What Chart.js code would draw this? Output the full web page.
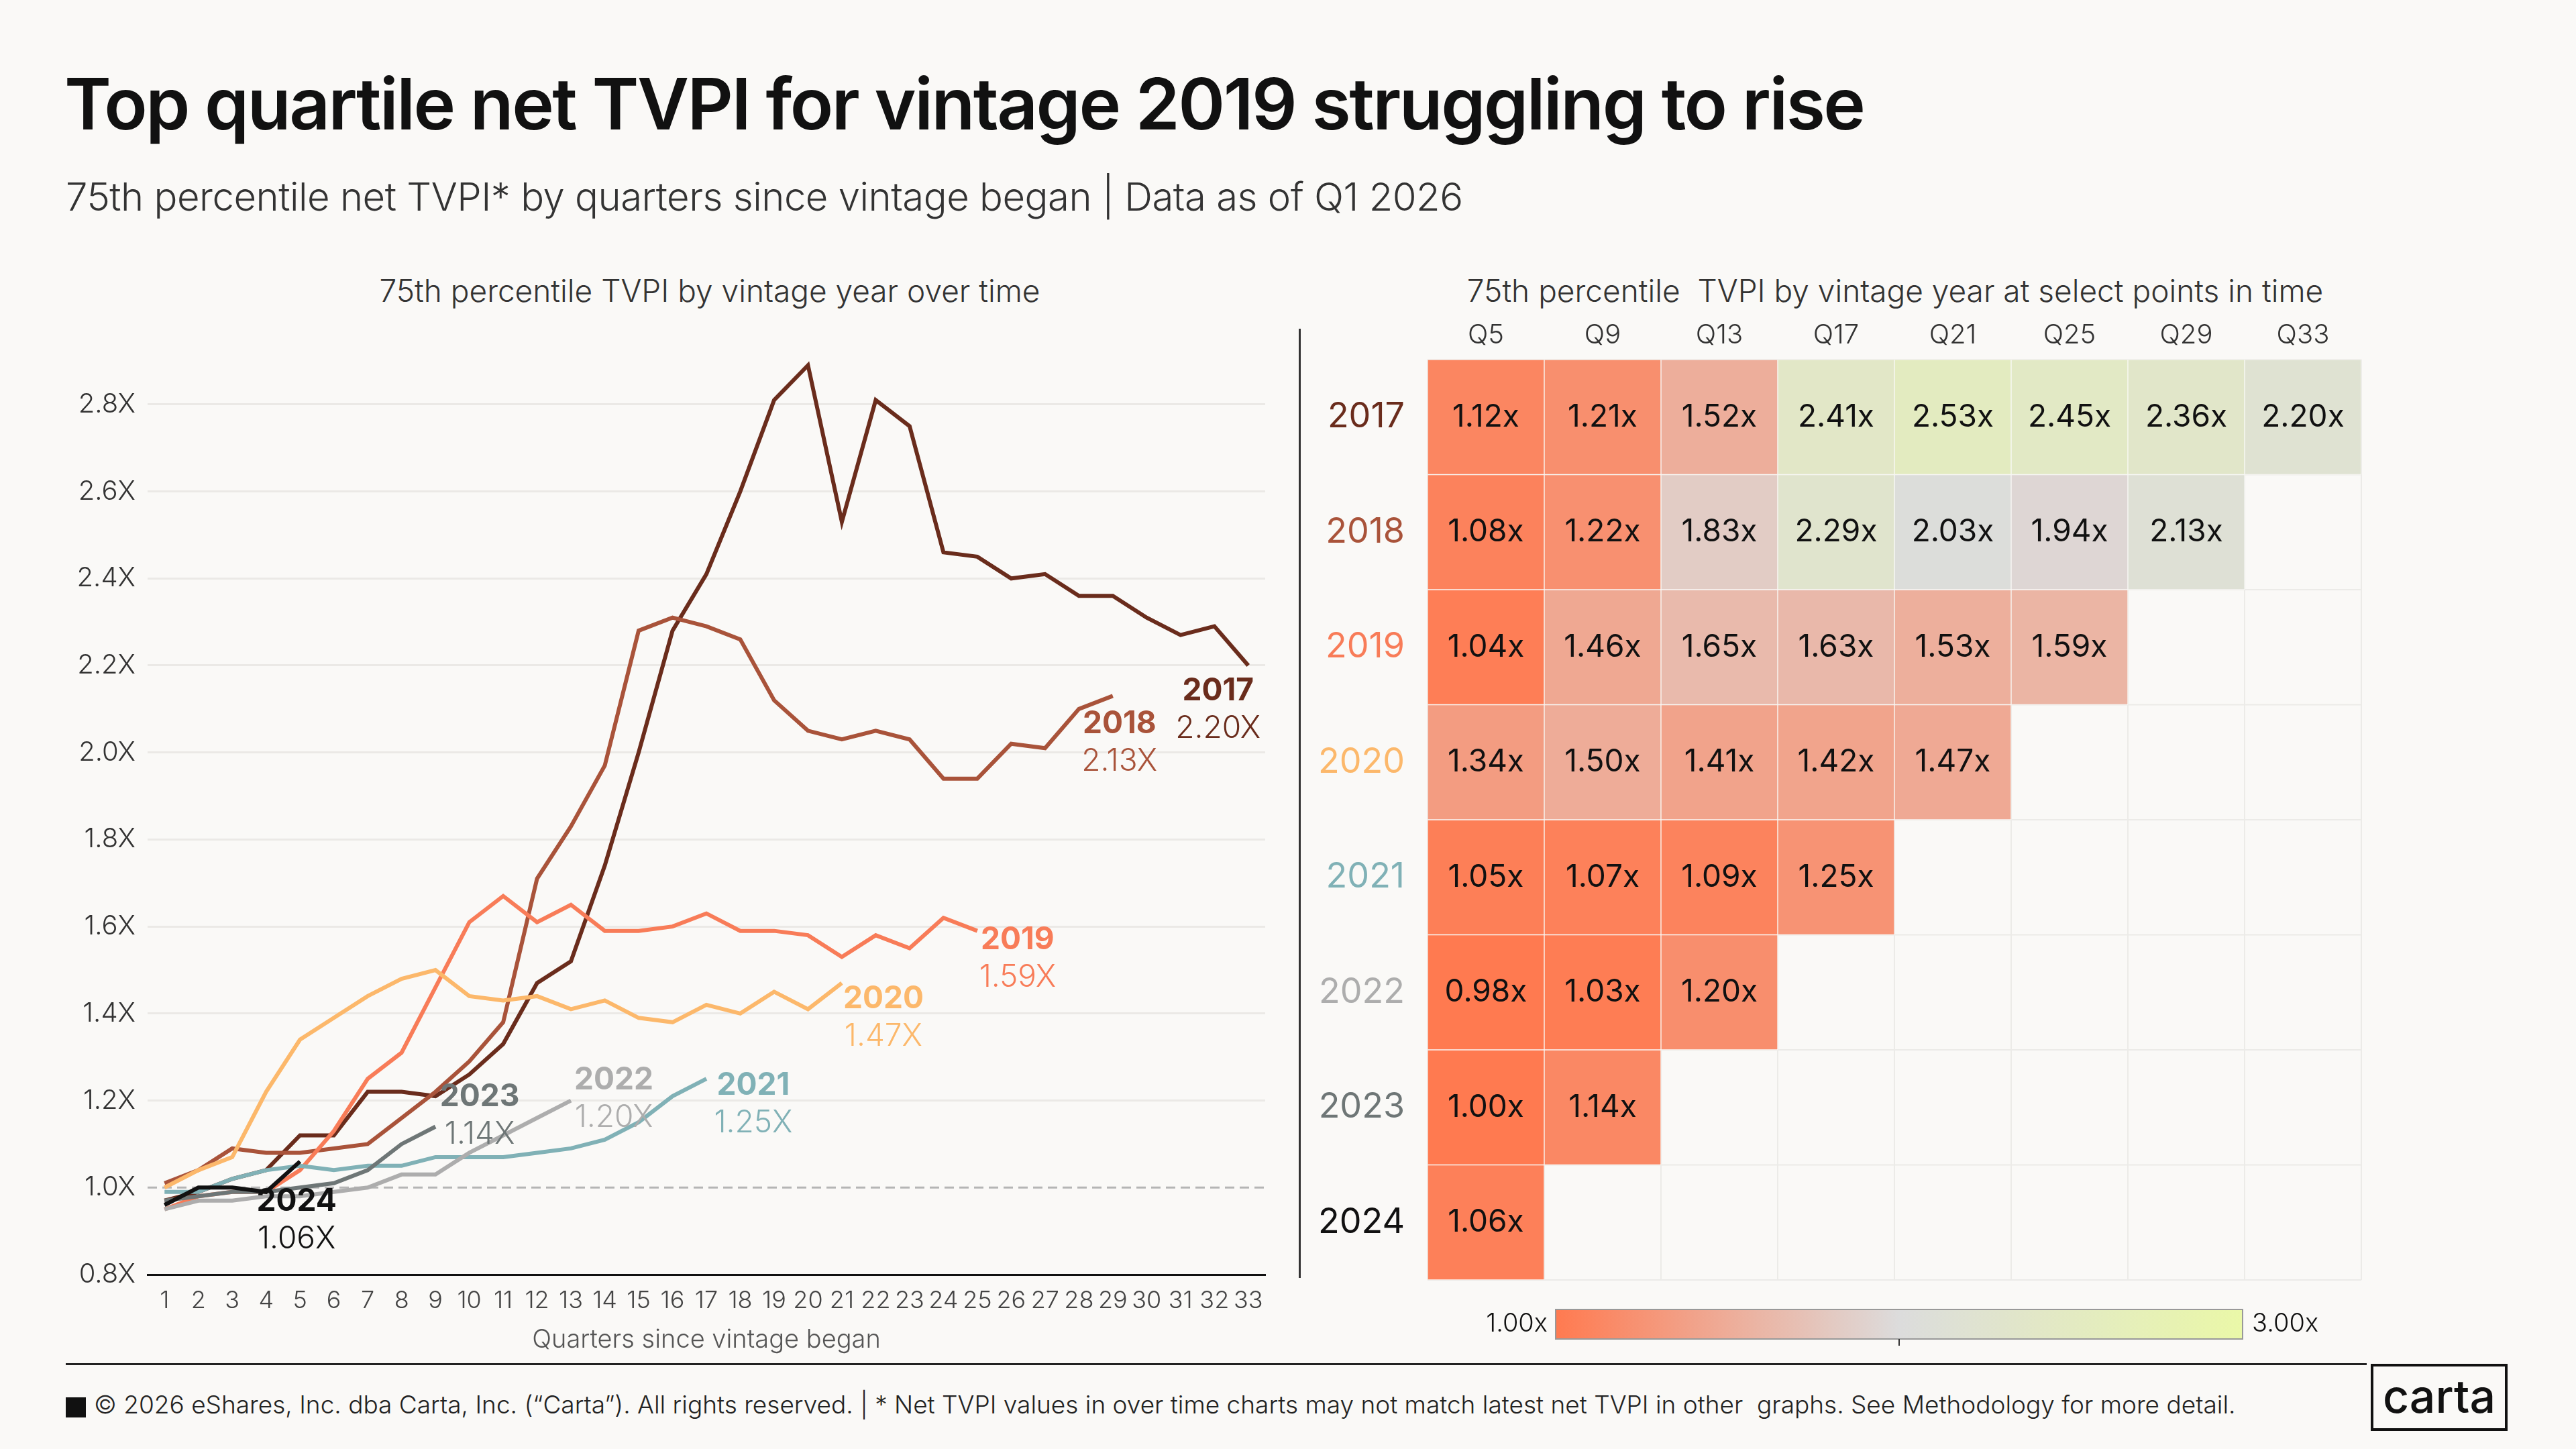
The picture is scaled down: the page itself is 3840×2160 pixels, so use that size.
<!DOCTYPE html>
<html>
<head>
<meta charset="utf-8">
<script src="https://cdn.jsdelivr.net/npm/chart.js@4.4.1/dist/chart.umd.min.js"></script>
<style>
  body { margin: 0; background: #faf9f7; font-family: Inter, "Noto Sans", sans-serif; color: #111; }
  #page { position: relative; width: 3840px; height: 2160px; overflow: hidden; }
  .abs { position: absolute; }
  #title { left: 96px; top: 90px; font-size: 106px; font-weight: 600; letter-spacing: -2.5px; }
  #subtitle { left: 98px; top: 258px; font-size: 58px; color: #333; font-weight: 300; letter-spacing: -0.5px; }
  .ptitle { font-size: 46px; color: #333; font-weight: 300; text-align: center; }
  #footer { left: 140px; top: 2071px; font-size: 37px; color: #222; font-weight: 300; }
</style>
</head>
<body>
<div id="page">
  <div id="title" class="abs">Top quartile net TVPI for vintage 2019 struggling to rise</div>
  <div id="subtitle" class="abs">75th percentile net TVPI* by quarters since vintage began | Data as of Q1 2026</div>
  <div class="abs ptitle" style="left:98px;width:1920px;top:405px;">75th percentile TVPI by vintage year over time</div>
  <div class="abs ptitle" style="left:2000px;width:1650px;top:405px;">75th percentile&nbsp; TVPI by vintage year at select points in time</div>
  <canvas id="lineChart" class="abs" style="left:98px;top:480px;" width="1812" height="1540"></canvas>
  <div class="abs" style="left:1936px;top:490px;width:3px;height:1415px;background:#333;"></div>
  <canvas id="heatChart" class="abs" style="left:1940px;top:470px;" width="1820" height="1560"></canvas>
  <div class="abs" style="left:98px;top:2032px;width:3430px;height:3px;background:#222;"></div>
  <div class="abs" style="left:98px;top:2083px;width:30px;height:30px;background:#111;"></div>
  <div id="footer" class="abs">© 2026 eShares, Inc. dba Carta, Inc. (“Carta”). All rights reserved. | * Net TVPI values in over time charts may not match latest net TVPI in other&nbsp; graphs. See Methodology for more detail.</div>
  <div class="abs" style="left:3534px;top:2033px;width:204px;height:100px;border:4px solid #111;box-sizing:border-box;font-size:68px;text-align:center;line-height:88px;font-weight:500;">carta</div>
</div>
<script>
// line chart data: 75th percentile TVPI by quarter since vintage began
const vintages = ["2017", "2018", "2019", "2020", "2021", "2022", "2023", "2024"];
const tvpi2017 = [0.97, 0.99, 1.02, 1.04, 1.12, 1.12, 1.22, 1.22, 1.21, 1.26, 1.33, 1.47, 1.52, 1.74, 2.00, 2.28, 2.41, 2.60, 2.81, 2.89, 2.53, 2.81, 2.75, 2.46, 2.45, 2.40, 2.41, 2.36, 2.36, 2.31, 2.27, 2.29, 2.20];
const tvpi2018 = [1.01, 1.04, 1.09, 1.08, 1.08, 1.09, 1.10, 1.16, 1.22, 1.29, 1.38, 1.71, 1.83, 1.97, 2.28, 2.31, 2.29, 2.26, 2.12, 2.05, 2.03, 2.05, 2.03, 1.94, 1.94, 2.02, 2.01, 2.10, 2.13];
const tvpi2019 = [0.95, 0.98, 0.99, 0.99, 1.04, 1.13, 1.25, 1.31, 1.46, 1.61, 1.67, 1.61, 1.65, 1.59, 1.59, 1.60, 1.63, 1.59, 1.59, 1.58, 1.53, 1.58, 1.55, 1.62, 1.59];
const tvpi2020 = [1.00, 1.04, 1.07, 1.22, 1.34, 1.39, 1.44, 1.48, 1.50, 1.44, 1.43, 1.44, 1.41, 1.43, 1.39, 1.38, 1.42, 1.40, 1.45, 1.41, 1.47];
const tvpi2021 = [0.99, 0.99, 1.02, 1.04, 1.05, 1.04, 1.05, 1.05, 1.07, 1.07, 1.07, 1.08, 1.09, 1.11, 1.15, 1.21, 1.25];
const tvpi2022 = [0.95, 0.97, 0.97, 0.98, 0.98, 0.99, 1.00, 1.03, 1.03, 1.08, 1.12, 1.16, 1.20];
const tvpi2023 = [0.97, 0.98, 0.99, 0.99, 1.00, 1.01, 1.04, 1.10, 1.14];
const tvpi2024 = [0.96, 1.00, 1.00, 0.99, 1.06];
const endLabels = ["2.20X", "2.13X", "1.59X", "1.47X", "1.25X", "1.20X", "1.14X", "1.06X"];

// heatmap data
const heatColumns = ["Q5", "Q9", "Q13", "Q17", "Q21", "Q25", "Q29", "Q33"];
const heat2017 = [1.12, 1.21, 1.52, 2.41, 2.53, 2.45, 2.36, 2.20];
const heat2018 = [1.08, 1.22, 1.83, 2.29, 2.03, 1.94, 2.13];
const heat2019 = [1.04, 1.46, 1.65, 1.63, 1.53, 1.59];
const heat2020 = [1.34, 1.50, 1.41, 1.42, 1.47];
const heat2021 = [1.05, 1.07, 1.09, 1.25];
const heat2022 = [0.98, 1.03, 1.20];
const heat2023 = [1.00, 1.14];
const heat2024 = [1.06];

const lineSeries = [tvpi2017, tvpi2018, tvpi2019, tvpi2020, tvpi2021, tvpi2022, tvpi2023, tvpi2024];
const heatRows = [heat2017, heat2018, heat2019, heat2020, heat2021, heat2022, heat2023, heat2024];

const colors = ["#6a2c1c", "#a9533a", "#f87c58", "#fcb86b", "#80b1b6", "#adadad", "#6e7676", "#111111"];
// label offsets from last point (px)
const labelOffsets = [[-45, 38], [10, 42], [60, 14], [62, 24], [70, 10], [64, -30], [66, -44], [-5, 60]];

const FONT = "Inter, 'Noto Sans', sans-serif";

const endLabelPlugin = {
  id: "endLabels",
  afterDatasetsDraw(chart) {
    const ctx = chart.ctx;
    ctx.save();
    ctx.textAlign = "center";
    ctx.textBaseline = "middle";
    chart.data.datasets.forEach((ds, i) => {
      const meta = chart.getDatasetMeta(i);
      const pt = meta.data[meta.data.length - 1];
      const x = pt.x + labelOffsets[i][0];
      const y = pt.y + labelOffsets[i][1];
      ctx.fillStyle = colors[i];
      ctx.font = "bold 46px " + FONT;
      ctx.fillText(vintages[i], x, y);
      ctx.font = "300 46px " + FONT;
      ctx.fillText(endLabels[i], x, y + 56);
    });
    ctx.restore();
  }
};

new Chart(document.getElementById("lineChart"), {
  type: "line",
  data: {
    datasets: lineSeries.map((vals, i) => ({
      label: vintages[i],
      data: vals.map((v, q) => ({ x: q + 1, y: v })),
      borderColor: colors[i],
      borderWidth: 6,
      pointRadius: 0,
      tension: 0,
      order: 10 - i
    }))
  },
  options: {
    responsive: false,
    animation: false,
    layout: { padding: { top: 58, right: 24, bottom: 0, left: 0 } },
    plugins: { legend: { display: false }, tooltip: { enabled: false } },
    scales: {
      x: {
        type: "linear",
        min: 0.5,
        max: 33.5,
        afterBuildTicks: (axis) => { axis.ticks = Array.from({ length: 33 }, (_, k) => ({ value: k + 1 })); },
        afterFit: (axis) => { axis.height = 120; },
        grid: { display: false },
        border: { color: "#111", width: 3 },
        ticks: { font: { size: 36, family: FONT, weight: 300 }, color: "#444", padding: 10, maxRotation: 0 },
        title: { display: true, text: "Quarters since vintage began", font: { size: 38, family: FONT, weight: 300 }, color: "#555", padding: 0 }
      },
      y: {
        min: 0.8,
        max: 2.9,
        afterBuildTicks: (axis) => { axis.ticks = [0.8, 1.0, 1.2, 1.4, 1.6, 1.8, 2.0, 2.2, 2.4, 2.6, 2.8].map(v => ({ value: v })); },
        afterFit: (axis) => { axis.width = 122; },
        border: { display: false },
        grid: {
          color: (c) => c.tick && Math.abs(c.tick.value - 1) < 0.001 ? "#bbbbbb" : "#ebe9e6",
          lineWidth: 3,
          drawTicks: false
        },
        ticks: {
          font: { size: 40, family: FONT, weight: 300 },
          color: "#333",
          padding: 18,
          callback: (v) => v.toFixed(1) + "X"
        }
      }
    }
  },
  plugins: [endLabelPlugin, {
    id: "dashOne",
    beforeDatasetsDraw(chart) {
      const { ctx, chartArea, scales } = chart;
      const y = scales.y.getPixelForValue(1.0);
      ctx.save();
      ctx.fillStyle = "#faf9f7";
      ctx.fillRect(chartArea.left, y - 3, chartArea.right - chartArea.left, 6);
      ctx.strokeStyle = "#b5b5b5";
      ctx.lineWidth = 3;
      ctx.setLineDash([14, 8]);
      ctx.beginPath();
      ctx.moveTo(chartArea.left, y);
      ctx.lineTo(chartArea.right, y);
      ctx.stroke();
      ctx.restore();
    }
  }]
});

// heatmap colour scale: 1.0 orange -> 2.0 grey -> 3.0 light lime
const colorStops = [[1.0, [255, 122, 80]], [1.5, [238, 172, 152]], [2.0, [220, 220, 220]], [3.0, [234, 248, 168]]];
function heatColor(v) {
  v = Math.max(1.0, Math.min(3.0, v));
  for (let k = 0; k < colorStops.length - 1; k++) {
    const [a, ca] = colorStops[k];
    const [b, cb] = colorStops[k + 1];
    if (v <= b) {
      const t = (v - a) / (b - a);
      const c = ca.map((x, j) => Math.round(x + (cb[j] - x) * t));
      return "rgb(" + c.join(",") + ")";
    }
  }
}

const heatPlugin = {
  id: "heatExtras",
  beforeDatasetsDraw(chart) {
    const { ctx, chartArea } = chart;
    const cw = (chartArea.right - chartArea.left) / heatColumns.length;
    const rh = (chartArea.bottom - chartArea.top) / vintages.length;
    ctx.save();
    ctx.strokeStyle = "#ecebe8";
    ctx.lineWidth = 2;
    for (let k = 0; k <= heatColumns.length; k++) {
      ctx.beginPath();
      ctx.moveTo(chartArea.left + k * cw, chartArea.top);
      ctx.lineTo(chartArea.left + k * cw, chartArea.bottom);
      ctx.stroke();
    }
    for (let k = 0; k <= vintages.length; k++) {
      ctx.beginPath();
      ctx.moveTo(chartArea.left, chartArea.top + k * rh);
      ctx.lineTo(chartArea.right, chartArea.top + k * rh);
      ctx.stroke();
    }
    ctx.restore();
  },
  afterDatasetsDraw(chart) {
    const ctx = chart.ctx;
    ctx.save();
    ctx.textAlign = "center";
    ctx.textBaseline = "middle";
    ctx.font = "400 46px " + FONT;
    ctx.fillStyle = "#111";
    chart.data.datasets.forEach((ds, i) => {
      chart.getDatasetMeta(i).data.forEach((bar, j) => {
        const y = (bar.y + bar.base) / 2;
        ctx.fillText(heatRows[i][j].toFixed(2) + "x", bar.x, y);
      });
    });
    // colour bar legend
    const x0 = 2319 - 1940, x1 = 3343 - 1940, y0 = 1952 - 470, h = 44;
    const grad = ctx.createLinearGradient(x0, 0, x1, 0);
    for (let k = 0; k <= 20; k++) grad.addColorStop(k / 20, heatColor(1 + k / 10));
    ctx.fillStyle = grad;
    ctx.fillRect(x0, y0, x1 - x0, h);
    ctx.strokeStyle = "#999";
    ctx.lineWidth = 2;
    ctx.strokeRect(x0, y0, x1 - x0, h);
    ctx.beginPath();
    ctx.moveTo((x0 + x1) / 2, y0 + h);
    ctx.lineTo((x0 + x1) / 2, y0 + h + 10);
    ctx.strokeStyle = "#333";
    ctx.stroke();
    ctx.fillStyle = "#111";
    ctx.font = "300 38px " + FONT;
    ctx.textAlign = "right";
    ctx.fillText("1.00x", x0 - 12, y0 + h / 2);
    ctx.textAlign = "left";
    ctx.fillText("3.00x", x1 + 14, y0 + h / 2);
    ctx.restore();
  }
};

new Chart(document.getElementById("heatChart"), {
  type: "bar",
  data: {
    labels: heatColumns,
    datasets: heatRows.map((row, i) => ({
      label: vintages[i],
      data: row.map(() => [i, i + 1]),
      backgroundColor: row.map(heatColor),
      borderColor: "#faf9f7",
      borderWidth: 1,
      borderSkipped: false,
      grouped: false,
      barPercentage: 1,
      categoryPercentage: 1
    }))
  },
  options: {
    responsive: false,
    animation: false,
    layout: { padding: { top: 0, right: 240, bottom: 122, left: 0 } },
    plugins: { legend: { display: false }, tooltip: { enabled: false } },
    scales: {
      x: {
        position: "top",
        grid: { display: false },
        border: { display: false },
        afterFit: (axis) => { axis.height = 66; },
        ticks: { font: { size: 40, family: FONT, weight: 300 }, color: "#333", padding: 4 }
      },
      y: {
        reverse: true,
        min: 0,
        max: 8,
        afterBuildTicks: (axis) => { axis.ticks = vintages.map((_, i) => ({ value: i + 0.5 })); },
        afterFit: (axis) => { axis.width = 188; },
        grid: { display: false },
        border: { display: false },
        ticks: {
          font: { size: 52, family: FONT, weight: 400 },
          color: (c) => colors[c.index],
          padding: 26,
          callback: (v, idx) => vintages[idx]
        }
      }
    }
  },
  plugins: [heatPlugin]
});
</script>
</body>
</html>
